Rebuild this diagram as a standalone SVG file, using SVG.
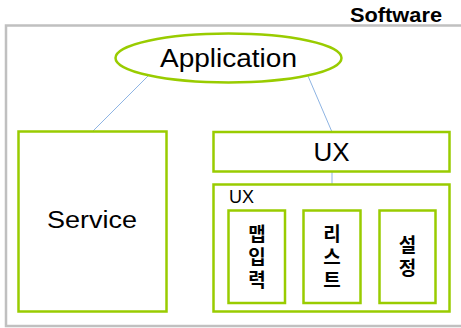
<svg xmlns="http://www.w3.org/2000/svg" width="461" height="328" viewBox="0 0 461 328">
  <style>
    .box { fill: #ffffff; stroke: #99cc00; stroke-width: 2.5; }
    .frame { fill: #ffffff; stroke: #c0c0c0; stroke-width: 2.5; }
    .link { stroke: #8eb4e3; stroke-width: 1; fill: none; }
    .lbl { font-family: "Liberation Sans", Arial, sans-serif; fill: #000000; }
    .ko { font-family: "Noto Sans CJK KR", "Noto Sans", sans-serif; font-weight: bold; font-size: 19px; fill: #000000; text-anchor: middle; writing-mode: vertical-rl; letter-spacing: 4px; }
  </style>

  <!-- outer software frame (runs off the right edge) -->
  <g id="software">
    <rect class="frame" x="6" y="25.5" width="470" height="300.5"/>
    <text class="lbl" x="350" y="22" font-size="20" font-weight="bold" textLength="92" lengthAdjust="spacingAndGlyphs">Software</text>
  </g>

  <!-- connectors -->
  <g id="connectors">
    <line class="link" x1="148" y1="76" x2="93" y2="131"/>
    <line class="link" x1="308" y1="76" x2="332" y2="132"/>
    <line class="link" x1="332" y1="172" x2="332" y2="184"/>
  </g>

  <g id="application">
    <ellipse class="box" cx="228.5" cy="58" rx="113" ry="24.5"/>
    <text class="lbl" x="228.5" y="67" font-size="26" text-anchor="middle" textLength="137" lengthAdjust="spacingAndGlyphs">Application</text>
  </g>

  <g id="service">
    <rect class="box" x="18.5" y="131.5" width="148" height="180"/>
    <text class="lbl" x="92" y="228" font-size="23" text-anchor="middle" textLength="90" lengthAdjust="spacingAndGlyphs">Service</text>
  </g>

  <g id="ux-top">
    <rect class="box" x="213.5" y="132" width="236" height="39.5"/>
    <text class="lbl" x="331.5" y="161" font-size="26" text-anchor="middle">UX</text>
  </g>

  <g id="ux-group">
    <rect class="box" x="213.5" y="184.5" width="236" height="127"/>
    <text class="lbl" x="229" y="203" font-size="18" fill="#1a1a2e">UX</text>
  </g>

  <!-- vertical Korean labels, one text run per box -->
  <g id="map-input">
    <rect class="box" x="228.5" y="210.5" width="56.5" height="92.5"/>
    <text class="ko" x="257" y="258.5">맵입력</text>
  </g>

  <g id="list">
    <rect class="box" x="303.5" y="210.5" width="57" height="92.5"/>
    <text class="ko" x="332" y="258.5">리스트</text>
  </g>

  <g id="settings">
    <rect class="box" x="379.5" y="210.5" width="56" height="92.5"/>
    <text class="ko" x="407.5" y="258.5">설정</text>
  </g>
</svg>
